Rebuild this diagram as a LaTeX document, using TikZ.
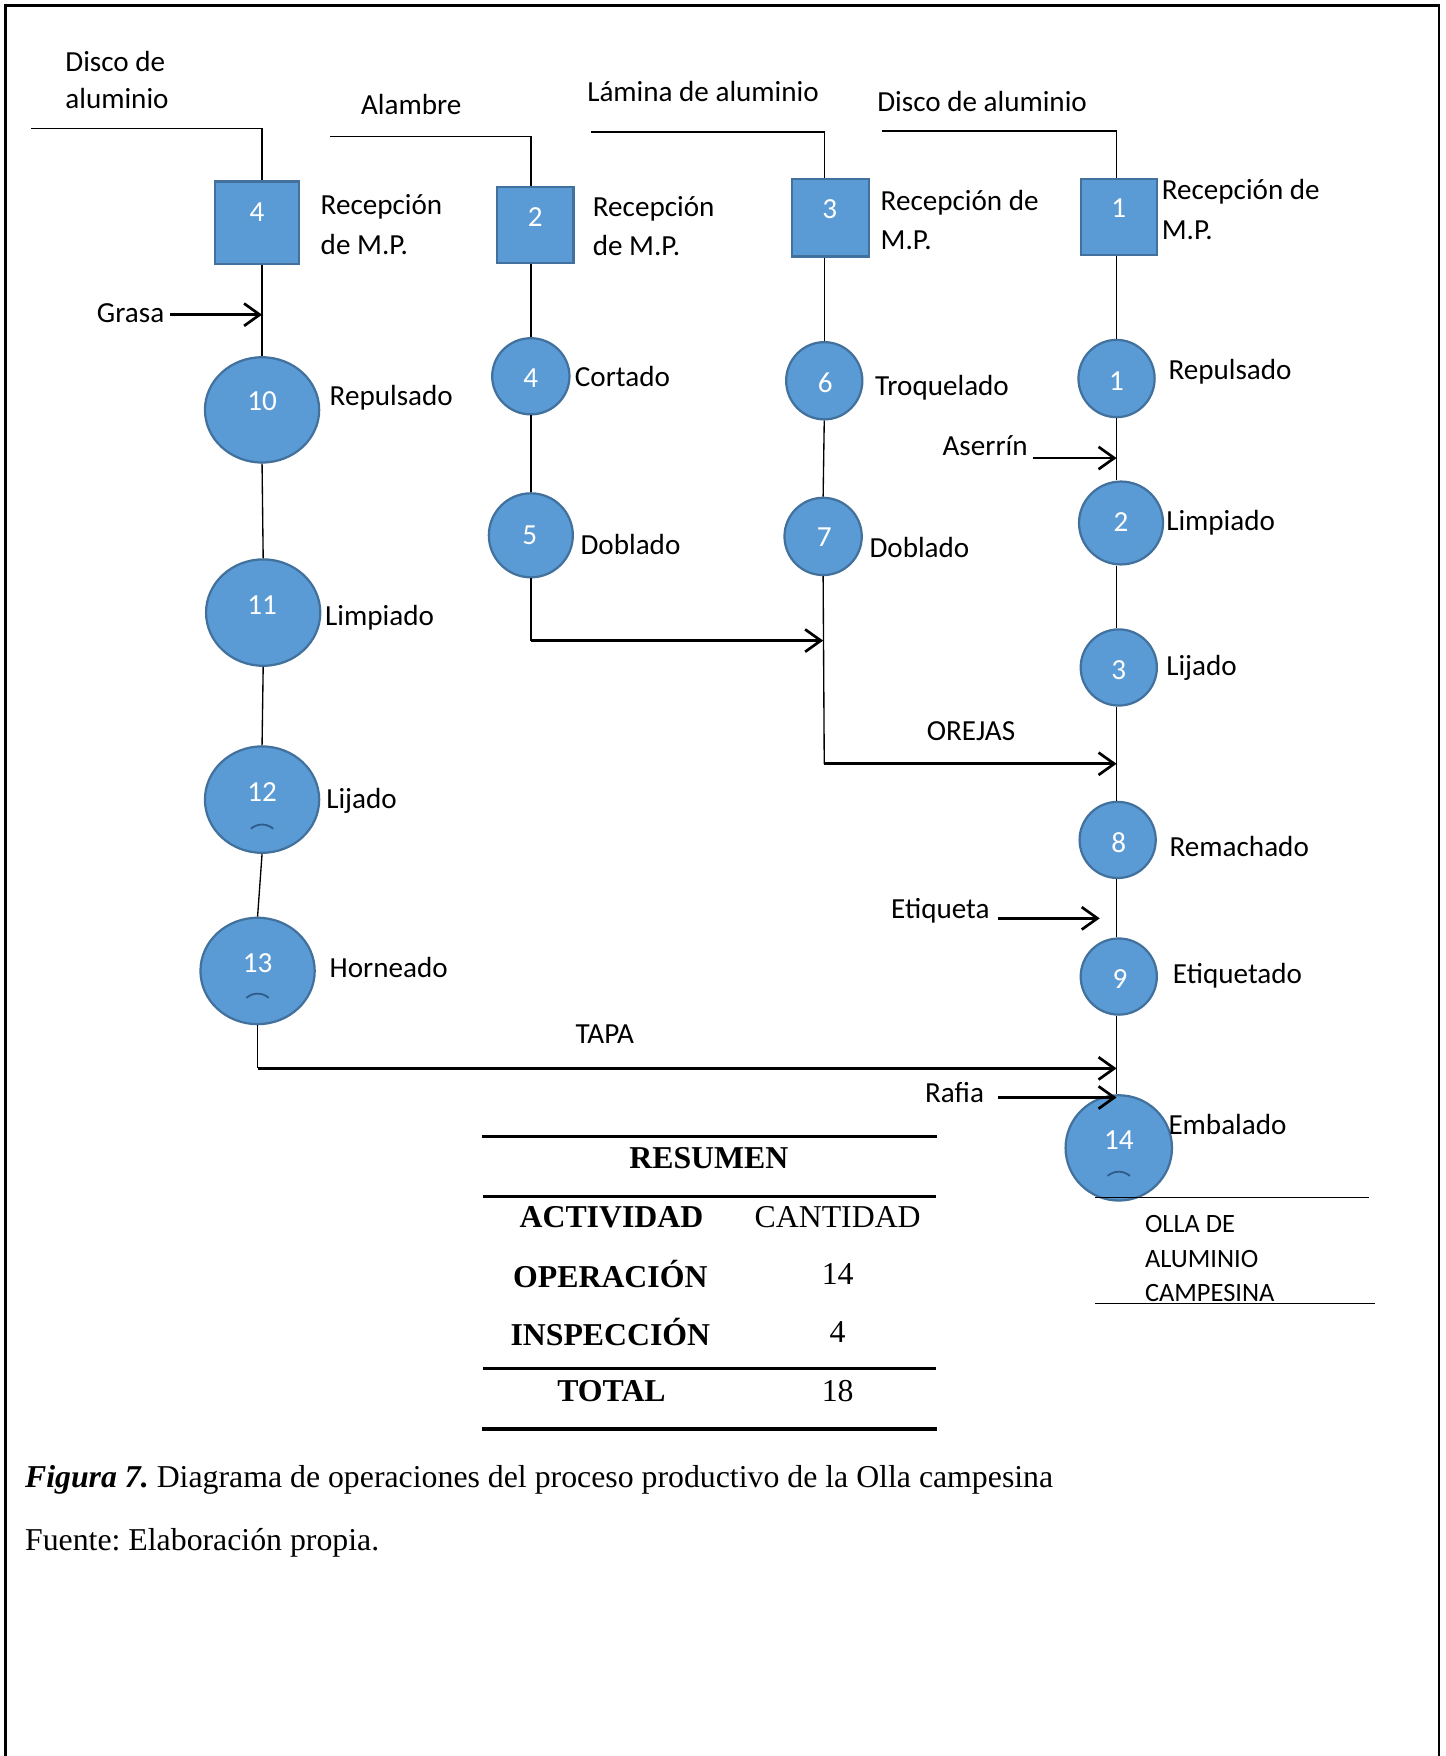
\documentclass[tikz,border=0pt]{standalone}
\usepackage{fontspec}
\setmainfont{Carlito}
\newfontfamily\tnr{Liberation Serif}
\usetikzlibrary{arrows.meta,shapes.geometric}
\frenchspacing
\definecolor{wfill}{HTML}{5B9BD5}
\definecolor{wline}{HTML}{41719C}
\definecolor{wmark}{HTML}{2E5C8A}
\tikzset{
  box/.style={rectangle,fill=wfill,draw=wline,line width=1pt,inner sep=0pt},
  op/.style={ellipse,fill=wfill,draw=wline,line width=1pt,inner sep=0pt},
  num/.style={text=white,font=\fontsize{13}{15}\selectfont,inner sep=0pt},
  lbl/.style={font=\fontsize{13}{17.5}\selectfont,inner sep=0pt,anchor=west,align=left},
  lble/.style={font=\fontsize{13}{17.5}\selectfont,inner sep=0pt,anchor=east},
  conn/.style={line width=0.6pt},
  arr/.style={line width=1.2pt,-{Straight Barb[length=7pt,width=10pt]}},
  tb/.style={font=\tnr\bfseries\fontsize{14.2}{17}\selectfont,inner sep=0pt},
  tr/.style={font=\tnr\fontsize{14.2}{17}\selectfont,inner sep=0pt},
  mk/.style={draw=wmark,line width=0.8pt}
}
\begin{document}
\frenchspacing
\begin{tikzpicture}[x=0.5pt,y=-0.5pt]
\useasboundingbox (0,0) rectangle (1291,1568);
\fill[white] (0,0) rectangle (1291,1568);
% frame
\draw[line width=1pt] (5,1568) -- (5,5) -- (1285,5) -- (1285,1568);

% ---------- column 1 ----------
\node[lbl,font=\fontsize{13}{16.5}\selectfont] (t_disco1) at (58,71.5) {Disco de\\aluminio};
\node[box,minimum width=37.5pt,minimum height=37pt] (b4) at (229.5,199) {};
\node[num] at (229.5,189) {4};
\node[lbl] (t_rec4) at (286,200.5) {Recepción\\de M.P.};
\node[op,minimum width=51pt,minimum height=47pt] (c10) at (234,366) {};
\node[num] at (234,358) {10};
\node[lbl] at (294,355) {Repulsado};
\node[op,minimum width=51pt,minimum height=47.5pt] (c11) at (235,547) {};
\node[num] at (234,540) {11};
\node[lbl] at (290,552) {Limpiado};
\node[op,minimum width=51pt,minimum height=47.5pt] (c12) at (234,714) {};
\node[num] at (234,707) {12};
\draw[mk] (224,740) .. controls (230,735) and (238,735) .. (244,740);
\node[lbl] at (291,715) {Lijado};
\node[op,minimum width=51pt,minimum height=47.5pt] (c13) at (230,867) {};
\node[num] at (230,860) {13};
\draw[mk] (220,891) .. controls (226,886) and (234,886) .. (240,891);
\node[lbl] at (294,864) {Horneado};
\node[lble] (t_grasa) at (147,280) {Grasa};

\coordinate (in1) at (28,115);
\draw[conn] (in1) -| (b4.north -| c10.north);
\draw[conn] (b4.south -| c10.north) -- (c10.north);
\coordinate (g1) at (152,281);
\draw[arr] (g1) -- (g1 -| c10.north);
\draw[conn] (c10.south) -- (c11.north);
\draw[conn] (c11.south) -- (c12.north);
\draw[conn] (c12.south) -- (c13.north);

% ---------- column 2 ----------
\node[lbl] at (322,93) {Alambre};
\node[box,minimum width=34pt,minimum height=34pt] (b2) at (478,201) {};
\node[num] at (478,194) {2};
\node[lbl] at (529,202) {Recepción\\de M.P.};
\node[op,minimum width=34.5pt,minimum height=34pt] (c4) at (474,336) {};
\node[num] at (474,338) {4};
\node[lbl] at (513,336) {Cortado};
\node[op,minimum width=37.5pt,minimum height=37.5pt] (c5) at (474,478) {};
\node[num] at (473,478) {5};
\node[lbl] at (518,486) {Doblado};

\coordinate (in2) at (295,122);
\draw[conn] (in2) -| (b2.north -| c4.north);
\draw[conn] (b2.south -| c4.north) -- (c4.north);
\draw[conn] (c4.south) -- (c5.north);

% ---------- column 3 ----------
\node[lbl] at (524,82) {Lámina de aluminio};
\node[box,minimum width=34.5pt,minimum height=34.5pt] (b3) at (741.5,194.5) {};
\node[num] at (741,187) {3};
\node[lbl] at (786,196.5) {Recepción de\\M.P.};
\node[op,minimum width=34pt,minimum height=34.5pt] (c6) at (736,340) {};
\node[num] at (737,342) {6};
\node[lbl] at (781,346) {Troquelado};
\node[op,minimum width=34.5pt,minimum height=34.5pt] (c7) at (735,479) {};
\node[num] at (736,480) {7};
\node[lbl] at (776,489) {Doblado};

\coordinate (in3) at (528,118);
\draw[conn] (in3) -| (b3.north -| c6.north);
\draw[conn] (b3.south -| c6.north) -- (c6.north);
\draw[conn] (c6.south) -- (c7.north);

% ---------- column 4 ----------
\node[lbl] at (783,91) {Disco de aluminio};
\node[box,minimum width=34pt,minimum height=34pt] (b1) at (999,194) {};
\node[num] at (999,186) {1};
\node[lbl] at (1037,187) {Recepción de\\M.P.};
\node[op,minimum width=34pt,minimum height=34.5pt] (c1) at (997,338) {};
\node[num] at (997,340) {1};
\node[lbl] at (1043,332) {Repulsado};
\node[op,minimum width=37.5pt,minimum height=37pt] (c2) at (1001,467) {};
\node[num] at (1001,466) {2};
\node[lbl] at (1041,467) {Limpiado};
\node[op,minimum width=34pt,minimum height=34pt] (c3) at (999,596) {};
\node[num] at (999,598) {3};
\node[lbl] at (1041,596) {Lijado};
\node[op,minimum width=34pt,minimum height=34pt] (c8) at (998,750) {};
\node[num] at (999,752) {8};
\node[lbl] at (1044,756) {Remachado};
\node[op,minimum width=34pt,minimum height=34pt] (c9) at (999,872) {};
\node[num] at (1000,874) {9};
\node[lbl] at (1047,871) {Etiquetado};
\node[op,minimum width=47.5pt,minimum height=47pt] (c14) at (999,1025) {};
\node[num] at (999,1018) {14};
\draw[mk] (989,1050) .. controls (995,1045) and (1003,1045) .. (1009,1050);
\node[lbl] at (1043,1004) {Embalado};

\node[lble] at (918,398) {Aserrín};
\node[lble] at (884,813) {Etiqueta};
\node[lble] at (879,976) {Rafia};
\node[font=\fontsize{13}{15}\selectfont,inner sep=0pt] at (867,653) {OREJAS};
\node[font=\fontsize{13}{15}\selectfont,inner sep=0pt] at (540,923) {TAPA};

\coordinate (in4) at (788,117);
\draw[conn] (in4) -| (b1.north -| c1.north);
\draw[conn] (b1.south -| c1.north) -- (c1.north);
\draw[conn] (c1.south) -- (c1.south |- c2.north);
\draw[conn] (c1.south |- c2.south) -- (c1.south |- c3.north);
\draw[conn] (c1.south |- c3.south) -- (c1.south |- c8.north);
\draw[conn] (c1.south |- c8.south) -- (c1.south |- c9.north);
\draw[conn] (c1.south |- c9.south) -- (c1.south |- c14.north);

\coordinate (aS) at (922,409);
\draw[arr] (aS) -- (aS -| c1.south);
\coordinate (eS) at (891,820);
\coordinate (eE) at (982,820);
\draw[arr] (eS) -- (eE);
\coordinate (rS) at (891,980);
\draw[arr] (rS) -- (rS -| c1.south);

% merges
\coordinate (j5) at (474,572);
\draw[conn] (c5.south) -- (j5);
\draw[arr] (j5) -- (j5 -| c7.south);
\coordinate (j7) at (736,682);
\draw[conn] (c7.south) -- (j7);
\draw[arr] (j7) -- (j7 -| c1.south);
\coordinate (j13) at (230,954);
\draw[conn] (c13.south) -- (j13);
\draw[arr] (j13) -- (j13 -| c1.south);

% output
\coordinate (o1) at (978,1069);
\coordinate (o2) at (1222,1069);
\draw[conn] (o1) -- (o2);
\node[lbl,font=\fontsize{11.8}{15.5}\selectfont] at (1022,1124) {OLLA DE\\ALUMINIO\\CAMPESINA};
\coordinate (o3) at (978,1164);
\coordinate (o4) at (1228,1164);
\draw[conn] (o3) -- (o4);

% ---------- table ----------
\draw[line width=1.5pt] (430,1015) -- (837,1015);
\node[tb] at (633,1034) {RESUMEN};
\draw[line width=1.3pt] (431,1068) -- (836,1068);
\node[tb] at (546,1087) {ACTIVIDAD};
\node[tr] at (748,1087) {CANTIDAD};
\node[tb] at (545,1138) {OPERACIÓN};
\node[tr] at (748,1138) {14};
\node[tb] at (545,1189) {INSPECCIÓN};
\node[tr] at (748,1189) {4};
\draw[line width=1.3pt] (431,1222) -- (836,1222);
\node[tb] at (546,1242) {TOTAL};
\node[tr] at (748,1242) {18};
\draw[line width=1.5pt] (430,1276) -- (837,1276);

% ---------- caption ----------
\node[tr,anchor=west] at (22,1321) {{\bfseries\itshape Figura 7.}\ Diagrama de operaciones del proceso productivo de la Olla campesina};
\node[tr,anchor=west] at (22,1378) {Fuente:\ Elaboración propia.};
\end{tikzpicture}
\end{document}
